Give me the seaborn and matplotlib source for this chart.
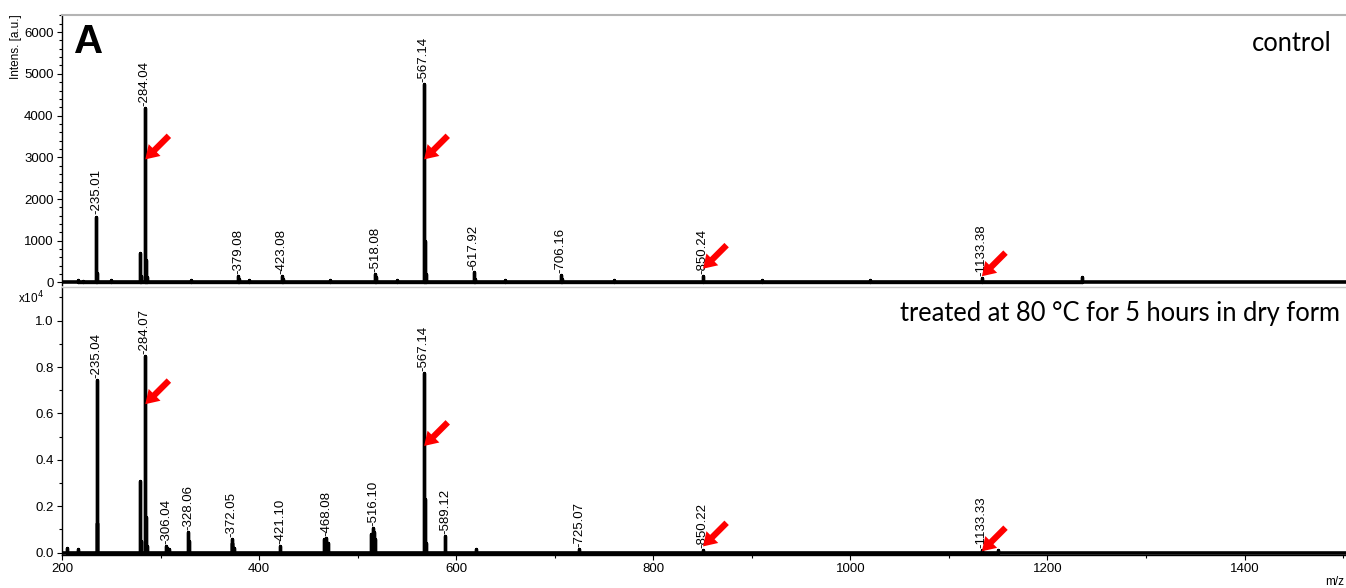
import pandas as pd
import matplotlib.pyplot as plt
import matplotlib.ticker as mticker
import seaborn as sns

# peak lists (m/z, intensity)
ctrl_mz = [216, 221, 235.01, 236.0, 250, 279.0, 280.0, 284.04, 285.0, 286.0, 331, 379.08, 380, 390,
           423.08, 424, 472, 518.08, 519.0, 540, 567.14, 568.1, 569.0, 617.92, 619, 650,
           706.16, 707, 760, 850.24, 910, 1020, 1133.38, 1235]
ctrl_int = [60, 40, 1580, 230, 50, 715, 150, 4180, 550, 120, 60, 150, 90, 70,
            160, 80, 70, 200, 120, 60, 4750, 1000, 200, 250, 90, 60,
            180, 90, 50, 150, 70, 50, 100, 120]

trt_mz = [205, 216, 235.04, 236.0, 279.0, 280.0, 284.07, 285.0, 286.0, 306.04, 307.0, 309.0,
          328.06, 329.0, 372.05, 373.0, 375.0, 421.10, 466.0, 468.08, 470.0, 514.0, 516.10,
          517.0, 518.0, 567.14, 568.1, 569.0, 589.12, 620, 725.07, 850.22, 1133.33, 1150]
trt_int = [0.02, 0.015, 0.745, 0.13, 0.31, 0.05, 0.847, 0.155, 0.03, 0.03, 0.02, 0.015,
           0.087, 0.05, 0.06, 0.04, 0.02, 0.03, 0.06, 0.065, 0.04, 0.08, 0.107,
           0.09, 0.06, 0.774, 0.23, 0.04, 0.07, 0.015, 0.015, 0.01, 0.01, 0.01]

# labelled peaks
ctrl_lab_mz = [235.01, 284.04, 379.08, 423.08, 518.08, 567.14, 617.92, 706.16, 850.24, 1133.38]
ctrl_lab_int = [1580, 4180, 150, 160, 200, 4750, 250, 180, 150, 100]
trt_lab_mz = [235.04, 284.07, 306.04, 328.06, 372.05, 421.10, 468.08, 516.10, 567.14, 589.12,
              725.07, 850.22, 1133.33]
trt_lab_int = [0.745, 0.847, 0.03, 0.087, 0.06, 0.03, 0.065, 0.107, 0.774, 0.07, 0.015, 0.01, 0.01]

# red arrows (m/z, intensity at tip)
ctrl_arrow_mz = [284.5, 567.5, 850.5, 1133.5]
ctrl_arrow_int = [2950, 2950, 330, 150]
trt_arrow_mz = [284.5, 567.5, 850.5, 1133.5]
trt_arrow_int = [0.64, 0.46, 0.027, 0.006]


def stick_frame(mz, inten):
    rows = []
    for m, h in zip(mz, inten):
        rows += [(m, 0.0), (m, h), (m, 0.0)]
    return pd.DataFrame(rows, columns=['mz', 'intensity'])


sns.set_theme(style='white')
plt.rcParams['font.family'] = ['Liberation Sans', 'DejaVu Sans']
plt.rcParams['text.color'] = 'black'

fig = plt.figure(figsize=(13.46, 5.88), dpi=100)
ax1 = fig.add_axes([62 / 1346, 1 - 285 / 588, 1 - 62 / 1346, 270 / 588])
ax2 = fig.add_axes([62 / 1346, 1 - 555 / 588, 1 - 62 / 1346, 268 / 588])

panels = [
    (ax1, ctrl_mz, ctrl_int, ctrl_lab_mz, ctrl_lab_int, ctrl_arrow_mz, ctrl_arrow_int, (-60, 6410)),
    (ax2, trt_mz, trt_int, trt_lab_mz, trt_lab_int, trt_arrow_mz, trt_arrow_int, (-0.01, 1.145)),
]

for ax, mz, inten, lmz, lint, amz, aint, ylim in panels:
    df = stick_frame(mz, inten)
    sns.lineplot(data=df, x='mz', y='intensity', sort=False, estimator=None,
                 color='black', lw=2.4, ax=ax)
    ax.axhline(0, color='black', lw=2.6, zorder=1)
    for m, h in zip(lmz, lint):
        ax.annotate('-' + f'{m:.2f}', xy=(m, h), xytext=(0, 1.5), textcoords='offset points',
                    rotation=90, ha='center', va='bottom', fontsize=9.5)
    for m, h in zip(amz, aint):
        ax.annotate('', xy=(m, h), xytext=(17, 17), textcoords='offset points',
                    arrowprops=dict(facecolor='#ff0000', edgecolor='none', width=4.5,
                                    headwidth=12, headlength=9.5, shrink=0))
    ax.set_xlim(200, 1503)
    ax.set_ylim(*ylim)
    ax.set_xlabel('')
    ax.set_ylabel('')
    ax.spines['right'].set_visible(False)
    ax.spines['left'].set_color('black')
    ax.spines['left'].set_linewidth(1.0)
    ax.tick_params(axis='y', which='both', direction='out', left=True, colors='black',
                   labelsize=9.5, length=3.6, width=0.8, pad=2.5)
    ax.tick_params(axis='y', which='minor', length=2.2)

ax1.spines['top'].set_color('#b4b4b4')
ax1.spines['top'].set_linewidth(1.5)
ax1.spines['bottom'].set_visible(False)
ax1.yaxis.set_major_locator(mticker.MultipleLocator(1000))
ax1.yaxis.set_minor_locator(mticker.MultipleLocator(200))
ax1.tick_params(axis='x', which='both', bottom=False, labelbottom=False)

ax2.spines['top'].set_color('#c8c8c8')
ax2.spines['top'].set_linewidth(1.0)
ax2.yaxis.set_major_locator(mticker.MultipleLocator(0.2))
ax2.yaxis.set_minor_locator(mticker.MultipleLocator(0.1))
ax2.yaxis.set_major_formatter(mticker.FormatStrFormatter('%.1f'))
ax2.xaxis.set_major_locator(mticker.MultipleLocator(200))
ax2.xaxis.set_minor_locator(mticker.MultipleLocator(100))
ax2.spines['bottom'].set_color('black')
ax2.spines['bottom'].set_linewidth(1.0)
ax2.tick_params(axis='x', which='both', direction='out', bottom=True, colors='black',
                labelsize=9.5, length=3.6, width=0.8, pad=2.5)
ax2.tick_params(axis='x', which='minor', length=2.2)

ax1.text(0.009, 0.97, 'A', transform=ax1.transAxes, fontsize=29, fontweight='heavy',
         color='black', ha='left', va='top')
ax1.text(0.9885, 0.895, 'control', transform=ax1.transAxes, fontsize=18.4,
         family=['Lato', 'DejaVu Sans'], color='black', ha='right', va='center')
ax2.text(0.9955, 0.9, 'treated at 80 °C for 5 hours in dry form', transform=ax2.transAxes,
         fontsize=18.4, family=['Lato', 'DejaVu Sans'], color='black', ha='right', va='center')

fig.text(10 / 1346, 1 - 14 / 588, 'Intens. [a.u.]', rotation=90, ha='left', va='top', fontsize=8.5)
fig.text(18 / 1346, 1 - 298 / 588, 'x10$^{4}$', ha='left', va='center', fontsize=8.5)
fig.text(1335 / 1346, 1 - 582 / 588, 'm/z', ha='center', va='center', fontsize=8.5)

fig.savefig('out.png', dpi=100)
